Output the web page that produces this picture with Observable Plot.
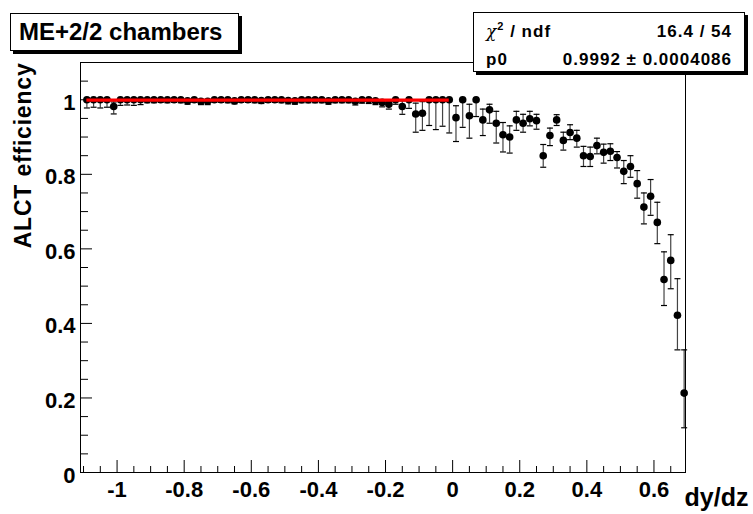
<!DOCTYPE html>
<html><head><meta charset="utf-8">
<script src="https://cdn.jsdelivr.net/npm/d3@7"></script>
<script src="https://cdn.jsdelivr.net/npm/@observablehq/plot@0.6"></script>
<style>
body{margin:0;background:#fff;}
#wrap{position:relative;width:753px;height:514px;font-family:"Liberation Sans",Arial,Helvetica,sans-serif;}
.box{position:absolute;background:#fff;border:1px solid #000;box-shadow:3px 3px 0 #000;font-weight:bold;box-sizing:border-box;color:#000;}
#title{left:10px;top:13px;width:229px;height:38px;font-size:24px;line-height:36px;padding-left:8px;white-space:nowrap;}
#stats{left:473px;top:12px;width:272px;height:60px;font-size:17px;letter-spacing:1px;}
#stats .row{position:absolute;left:12px;right:12px;height:29px;line-height:29px;display:flex;justify-content:space-between;white-space:nowrap;}
#stats .chi{font-family:"DejaVu Serif",serif;font-weight:normal;font-style:italic;}
#stats sup{font-size:11px;line-height:0;}
</style></head><body>
<div id="wrap"></div>
<script>
// histogram bin centres (dy/dz)
const xCenters = [
-1.09,-1.07,-1.05,-1.03,-1.01,-0.99,-0.97,-0.95,-0.93,-0.91,
-0.89,-0.87,-0.85,-0.83,-0.81,-0.79,-0.77,-0.75,-0.73,-0.71,
-0.69,-0.67,-0.65,-0.63,-0.61,-0.59,-0.57,-0.55,-0.53,-0.51,
-0.49,-0.47,-0.45,-0.43,-0.41,-0.39,-0.37,-0.35,-0.33,-0.31,
-0.29,-0.27,-0.25,-0.23,-0.21,-0.19,-0.17,-0.15,-0.13,-0.11,
-0.09,-0.07,-0.05,-0.03,-0.01,0.01,0.03,0.05,0.07,0.09,
0.11,0.13,0.15,0.17,0.19,0.21,0.23,0.25,0.27,0.29,
0.31,0.33,0.35,0.37,0.39,0.41,0.43,0.45,0.47,0.49,
0.51,0.53,0.55,0.57,0.59,0.61,0.63,0.65,0.67,0.69];
// ALCT efficiency per bin
const efficiency = [
1,1,1,1,0.982,1,1,1,1,1,
1,1,1,1,1,0.997,1,0.996,0.996,1,
1,1,0.997,1,1,1,0.998,1,1,1,
0.998,0.997,1,1,1,1,0.997,1,1,1,
0.996,1,1,0.997,0.993,0.988,1,0.982,1,0.962,
0.964,1,1,1,1,0.952,1,0.957,1,0.946,
0.973,0.937,0.906,0.900,0.946,0.937,0.949,0.944,0.850,0.904,
0.946,0.891,0.912,0.897,0.850,0.848,0.877,0.859,0.862,0.845,
0.808,0.821,0.775,0.712,0.741,0.671,0.518,0.569,0.422,0.213];
const errLow = [
0.022,0.020,0.022,0.020,0.020,0.015,0.014,0.015,0.013,0.008,
0.008,0.007,0.008,0.007,0.008,0.009,0.007,0.009,0.009,0.007,
0.007,0.008,0.008,0.007,0.007,0.008,0.008,0.007,0.007,0.008,
0.009,0.009,0.008,0.008,0.008,0.008,0.009,0.008,0.008,0.008,
0.010,0.009,0.010,0.010,0.012,0.013,0.012,0.021,0.023,0.049,
0.046,0.069,0.080,0.071,0.089,0.064,0.074,0.060,0.045,0.042,
0.036,0.053,0.046,0.043,0.028,0.024,0.019,0.023,0.031,0.027,
0.015,0.026,0.019,0.024,0.029,0.027,0.022,0.029,0.025,0.028,
0.033,0.029,0.039,0.045,0.051,0.057,0.070,0.076,0.093,0.093];
const errHigh = [
0,0,0,0,0.012,0,0,0,0,0,
0,0,0,0,0,0.003,0,0.004,0.004,0,
0,0,0.003,0,0,0,0.002,0,0,0,
0.002,0.003,0,0,0,0,0.003,0,0,0,
0.004,0,0,0.003,0.005,0.007,0,0.015,0,0.029,
0.031,0,0,0,0,0.032,0,0.031,0,0.029,
0.015,0.032,0.033,0.030,0.023,0.024,0.020,0.017,0.030,0.020,
0.014,0.022,0.021,0.021,0.025,0.025,0.020,0.022,0.020,0.016,
0.029,0.029,0.035,0.038,0.045,0.054,0.074,0.069,0.098,0.116];
// constant fit
const fitP0 = 0.9992;
const fitRange = [-1.09, -0.01];
// axes
const xDomain = [-1.109, 0.694];
const yDomain = [0, 1.1];
const xMajor = [-1, -0.8, -0.6, -0.4, -0.2, 0, 0.2, 0.4, 0.6];
const xLabels = ["-1", "-0.8", "-0.6", "-0.4", "-0.2", "0", "0.2", "0.4", "0.6"];
const xMinor = [-1.1,-1.05,-0.95,-0.9,-0.85,-0.75,-0.7,-0.65,-0.55,-0.5,-0.45,-0.35,-0.3,-0.25,-0.15,-0.1,-0.05,0.05,0.1,0.15,0.25,0.3,0.35,0.45,0.5,0.55,0.65];
const yMajor = [0, 0.2, 0.4, 0.6, 0.8, 1];
const yLabels = ["0", "0.2", "0.4", "0.6", "0.8", "1"];
const yMinor = [0.05,0.1,0.15,0.25,0.3,0.35,0.45,0.5,0.55,0.65,0.7,0.75,0.85,0.9,0.95,1.05];
const titleText = "ME+2/2 chambers";
const xTitle = "dy/dz";
const yTitle = "ALCT efficiency";
const chi2Text = "16.4 / 54";
const p0Text = "0.9992 \u00b1 0.0004086";

const points = xCenters.map((x, i) => ({x, eff: efficiency[i], lo: efficiency[i] - errLow[i], hi: efficiency[i] + errHigh[i]}));
const capSymbol = {draw(context, size) { const w = Math.sqrt(size / Math.PI); context.moveTo(-w, 0); context.lineTo(w, 0); }};
const FONT = '"Liberation Sans", Arial, Helvetica, sans-serif';

const chart = Plot.plot({
  width: 753, height: 514,
  marginLeft: 80, marginRight: 68, marginTop: 62, marginBottom: 42,
  x: {domain: xDomain, label: null},
  y: {domain: yDomain, label: null},
  style: {fontFamily: FONT, background: "white", color: "#000", overflow: "visible"},
  marks: [
    Plot.frame({stroke: "#000", strokeWidth: 1}),
    Plot.axisX({ticks: xMinor, tickSize: -6, tickFormat: () => "", label: null}),
    Plot.axisX({ticks: xMajor, tickSize: -12, tickFormat: () => "", label: null}),
    Plot.axisX({ticks: xMajor, tickSize: 0, tickPadding: 9, tickFormat: (d) => xLabels[xMajor.indexOf(d)], fontSize: 22, fontWeight: "bold", label: null}),
    Plot.axisY({ticks: yMinor, tickSize: -8, tickFormat: () => "", label: null}),
    Plot.axisY({ticks: yMajor, tickSize: -12, tickFormat: () => "", label: null}),
    Plot.axisY({ticks: yMajor, tickSize: 0, tickPadding: 5, dy: 3, tickFormat: (d) => yLabels[yMajor.indexOf(d)], fontSize: 22, fontWeight: "bold", label: null}),
    Plot.ruleX(points, {x: "x", y1: "lo", y2: "hi", stroke: "#444", strokeWidth: 1.2}),
    Plot.dot(points.filter(d => d.lo < d.eff), {x: "x", y: "lo", symbol: capSymbol, r: 3, stroke: "#000", strokeWidth: 1.2}),
    Plot.dot(points.filter(d => d.hi > d.eff), {x: "x", y: "hi", symbol: capSymbol, r: 3, stroke: "#000", strokeWidth: 1.2}),
    Plot.dot(points, {x: "x", y: "eff", r: 3.8, fill: "#000", stroke: "none"}),
    Plot.ruleY([{y: fitP0, x1: fitRange[0], x2: fitRange[1]}], {y: "y", x1: "x1", x2: "x2", stroke: "#ff0000", strokeWidth: 3.2}),
    Plot.text([yTitle], {text: d => d, frameAnchor: "top-left", rotate: -90, textAnchor: "end", lineAnchor: "bottom", dx: -50, dy: 0, fontSize: 23, fontWeight: "bold", className: "ytitle"}),
    Plot.text([xTitle], {text: d => d, frameAnchor: "bottom-right", textAnchor: "end", lineAnchor: "bottom", dx: 63, dy: 33, fontSize: 25, fontWeight: "bold"})
  ]
});
d3.select(chart).selectAll(".ytitle text").style("letter-spacing", "0.8px");
const wrap = document.getElementById("wrap");
wrap.appendChild(chart);
const t = document.createElement("div");
t.className = "box"; t.id = "title"; t.textContent = titleText;
wrap.appendChild(t);
const s = document.createElement("div");
s.className = "box"; s.id = "stats";
s.innerHTML = '<div class="row" style="top:4px"><span><span class="chi">\u03c7</span><sup>2</sup> / ndf</span><span>' + chi2Text + '</span></div>' +
  '<div class="row" style="top:32px"><span>p0</span><span>' + p0Text + '</span></div>';
wrap.appendChild(s);
</script>
</body></html>
